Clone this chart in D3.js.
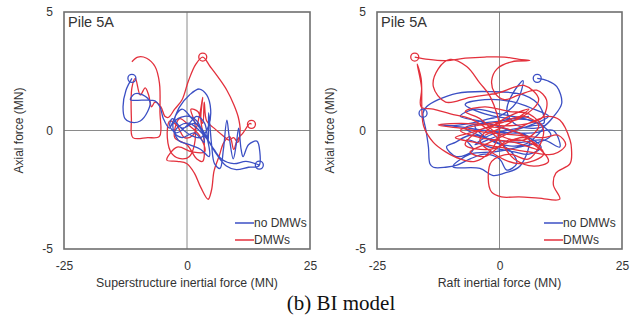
<!doctype html>
<html>
<head>
    <meta charset="UTF-8">
    <title>Pile 5A axial force</title>
    <script src="https://d3js.org/d3.v7.min.js"></script>
    <style>
        body{ margin:0; background:#fff; }
        text{ font-family: "Liberation Sans", Arial, sans-serif; fill:#333; }
    </style>
</head>
<body>
  <svg width="640" height="320" id="svg1"></svg>
  <script>
    // ticks
    var xTicks = [-25, 0, 25];
    var yTicks = [-5, 0, 5];
    var seriesNames = ["no DMWs", "DMWs"];
    var seriesColors = ["#3b4fc4", "#e3303c"];

    // superstructure inertial force vs axial force (MN)
    var leftBlue = [[-11.2,2.2],[-12.4,1.7],[-13,1.0],[-12.6,0.5],[-11.5,0.35],[-9.5,0.4],[-8,0.8],[-7.5,1.2],
        [-9,1.5],[-10.6,1.55],[-11.5,1.3],[-9,1.28],[-6.5,1.25],[-5.5,1.0],[-4.8,0.5],[-3.6,0.1],[-2.8,0.4],
        [-1.5,1.0],[0.5,1.5],[2.5,1.75],[4,1.5],[4.8,0.9],[4.4,0.2],[2.8,-0.3],[0.8,-0.2],[-1.2,0.1],[-3,0.5],
        [-3.5,0.2],[-2.2,-0.1],[0,0.2],[2,0.6],[3.6,0.3],[4.3,-0.5],[4.4,0.75],[5,-0.6],[5.6,-1.4],[6.7,-1.6],
        [7.4,-0.8],[8.1,0.44],[8.6,-0.3],[9.4,-1.2],[10,-0.6],[10.5,0.1],[11,-0.8],[11.4,-1.1],[12.5,-0.6],
        [14.2,-0.45],[14.8,-0.9],[14.6,-1.5],[12.5,-1.55],[10,-1.65],[8,-1.5],[6,-1.0],[4.2,-0.4],[2.5,0.0],
        [0.5,0.3],[-1.5,0.2],[-2.5,-0.1],[-1,-0.3],[1.5,-0.1],[3.5,-0.5],[2,0.4],[-0.5,0.6],[-2.8,0.3],
        [-1.8,-0.4],[0.5,-0.6],[2.8,-0.8],[4.5,-1.1],[3.8,-0.2],[1.5,0.3],[-1,0.1],[-2.5,0.5],[-1,0.9],
        [1,0.5],[3,0.0],[5.5,-0.8],[7,-1.2],[9.5,-1.4],[12,-1.3],[14.7,-1.46]];
    var leftRed = [[-11.2,2.9],[-10,3.1],[-8.2,3.05],[-6.5,2.7],[-5.6,2.0],[-5.5,0.8],[-5.6,-0.25],[-8,-0.3],
        [-11,-0.3],[-11.3,0.5],[-11.2,1.8],[-10.5,2.2],[-9.5,1.5],[-8.5,1.8],[-7.8,1.5],[-7.2,1.0],[-6.5,1.2],
        [-5.3,1.0],[-4.5,0.6],[-3.8,0.55],[-2.5,0.9],[-1,1.3],[0.3,2.1],[1.8,2.8],[3.2,3.1],[4.7,2.7],[6.5,2.2],
        [8.1,1.7],[9.5,1.1],[10.4,0.58],[10.8,0],[10.3,-0.5],[9.5,-0.3],[8.5,-0.4],[7.2,-0.2],[5.5,0.1],[4,0.4],
        [3.5,1.2],[3.2,0.3],[2.2,0.8],[0.8,0.9],[1.6,0.3],[1.5,-0.6],[0.5,-1.1],[-1,-1.2],[-3,-1.0],[-4,-0.3],
        [-3.5,0.4],[-2,0.2],[-0.5,-0.3],[1.2,-0.2],[2.5,0.6],[3.2,1.4],[2.8,0.5],[3.5,-0.5],[3.2,-1.3],[2,-1.2],
        [0,-0.6],[-2.5,-0.3],[-1.5,0.5],[0.5,0.2],[2.5,-0.2],[3.6,-0.9],[1,-0.9],[-2,-0.7],[-4.1,-1.25],
        [-2,-1.3],[0,-1.4],[1.5,-1.8],[2.8,-2.4],[4.3,-2.9],[5,-2.5],[5.5,-1.7],
        [6.5,-1.1],[7.5,-0.5],[8.7,-0.26],[9.5,-0.8],[10.2,-0.4],[11.4,-0.1],[12.8,0.3],[13.1,0.26]];

    // raft inertial force vs axial force (MN)
    var rightBlue = [[7.7,2.2],[9.8,2.1],[11.7,1.85],[12.7,1.15],[11,0.58],[8.9,0.16],[6,0.1],[3,0.3],[1.5,0.86],
        [2.8,1.6],[4.8,2.1],[3.5,1.2],[0,0.6],[-2,0.5],[-6,0.3],[-10,0.2],[-12,0.25],[-8,0.15],[-3,0.0],
        [2,-0.1],[7,-0.1],[11,0.0],[12.3,-0.7],[9,-0.4],[4,-0.5],[-1,-0.4],[-6,-0.2],[-9,-0.5],[-10.8,-0.68],
        [-8.8,-1.1],[-5.4,-0.82],[-6.7,-0.4],[-2,-0.7],[3,-0.9],[6,-1.0],[8.5,-0.7],[6,-0.3],[1,0.1],[-4,0.4],
        [-8,0.6],[-5,0.9],[0,0.7],[5,0.5],[9,0.3],[8.3,1.0],[4.9,1.5],[-1.9,1.64],[-8.7,1.57],[-12.5,1.3],
        [-14.9,1.0],[-15.6,0.73],[-15,0.0],[-14.5,-0.7],[-14.2,-1.4],[-13.5,-1.55],[-11,-1.55],[-8.7,-1.46],
        [-6,-1.2],[-3,-1.0],[0,-1.2],[1.5,-1.67],[3.5,-1.4],[2.8,-1.0],[0.5,-0.6],[-3,-0.3],[-7,0.1],[-3,0.3],
        [2,0.0],[6,-0.3],[4.2,-1.5],[1,-1.8],[-1.3,-1.9],[-4,-1.6],[-9.5,-1.53],[-6,-1.0],[-1,-0.9],[4,-0.7],
        [8,-0.5],[10.5,-0.2],[7,0.4],[2,0.5],[-3,0.7],[-7,1.1],[-3,1.3],[3,1.2],[7,0.9],[10,0.6],
        [6,0.2],[0,-0.2],[-5,-0.6],[-2,-0.2],[4,0.1],[9,0.2],[5,-0.6],[-1,-0.5],[-5,0.2],[0,0.4],[6,0.6]];
    var rightRed = [[-17.3,3.1],[-14.5,3.0],[-11,2.95],[-7,3.05],[-3,3.1],[1,3.1],[4,3.0],[6.2,2.95],[2.5,2.9],
        [-0.5,2.6],[-1.6,2.1],[-1.0,1.6],[1,1.3],[4,1.5],[7.6,1.7],[9.6,1.29],[8.9,0.58],[6,0.3],[2,0.2],
        [-3,0.25],[-8,0.3],[-12.5,0.23],[-8,0.1],[-2,-0.1],[4,-0.2],[9,-0.3],[12,-0.2],[13.5,-0.6],[11,-1.0],
        [6,-0.9],[0,-0.7],[-5,-0.5],[-9,-0.3],[-6,-0.1],[0,0.3],[5,0.6],[8,0.2],[5,-0.4],[0,-0.2],[-4,0.5],
        [-7,0.8],[-3,1.0],[2,0.8],[6,0.7],[9,0.0],[6,-1.2],[2,-1.0],[-1.6,-1.3],[-2.3,-2.0],[-1.6,-2.6],
        [0.4,-2.8],[4,-2.8],[8,-2.85],[12.3,-2.9],[11,-2.3],[11.5,-1.8],[14.4,-1.4],[14.7,-0.8],[14.4,-0.4],
        [12.3,0.44],[10,0.6],[7,0.4],[3,0.0],[-2,-0.5],[-6,-0.9],[-3,-1.1],[2,-0.4],[7,-0.6],[10,-1.3],
        [7,-1.5],[3,-1.2],[-1,-0.2],[-6,0.5],[-10,0.7],[-13.5,0.9],[-16,1.0],[-15.9,1.8],[-16.8,2.8],
        [-16,2.2],[-15.5,0.2],[-13.5,-0.5],[-11,-0.9],[-8,-1.2],[-5,-1.3],[-2,-0.9],[0,0.0],[-1.9,1.43],
        [-4,2.0],[-6.7,2.7],[-10.1,3.0],[-12.5,2.6],[-13.5,1.85],[-11,1.2],[-6,1.4],[0,1.6],[5,1.9],[8,1.3],
        [4,0.5],[-2,0.3],[-8,0.0],[-4,-0.3],[3,-0.5],[8,-0.8],[4,-0.1],[-3,0.1],[-7,-0.6],[-2,-0.8],[5,-0.3],
        [9,-1.0],[4,-1.4],[-1,-1.0],[-4,-0.4],[1,0.5],[6,0.9],[2,0.3],[-3,-0.2]];

    var leftMarks = [[-11.2,2.2,0],[14.7,-1.46,0],[3.2,3.1,1],[13.1,0.26,1]];
    var rightMarks = [[7.7,2.2,0],[-15.6,0.73,0],[-17.3,3.1,1]];

    var svg = d3.select("#svg1");
    var yScale = d3.scaleLinear().domain([-5, 5]).range([249, 12]);

    panel(64, 310, "Superstructure inertial force (MN)", 19, [leftRed, leftBlue], [1, 0], leftMarks, 235);
    panel(377, 622, "Raft inertial force (MN)", 330, [rightBlue, rightRed], [0, 1], rightMarks, 544);

    function panel(x0, x1, xTitle, yTitleX, data, colorIdx, marks, legX){
        var xScale = d3.scaleLinear().domain([-25, 25]).range([x0, x1]);
        var g = svg.append("g");

        // zero lines
        g.append("line").attr("x1", xScale(0)).attr("x2", xScale(0))
            .attr("y1", yScale(5)).attr("y2", yScale(-5)).attr("stroke", "#8a8a8a").attr("stroke-width", 1);
        g.append("line").attr("x1", x0).attr("x2", x1)
            .attr("y1", yScale(0)).attr("y2", yScale(0)).attr("stroke", "#8a8a8a").attr("stroke-width", 1);

        var line = d3.line()
            .x(function(d){ return xScale(d[0]); })
            .y(function(d){ return yScale(d[1]); })
            .curve(d3.curveCatmullRom.alpha(0.5));

        for(var i=0; i<data.length; i++){
            g.append("path").attr("d", line(data[i])).attr("fill", "none")
                .attr("stroke", seriesColors[colorIdx[i]]).attr("stroke-width", 1.3)
                .attr("stroke-linejoin", "round");
        }
        g.selectAll("circle.mk").data(marks).enter().append("circle")
            .attr("cx", function(d){ return xScale(d[0]); })
            .attr("cy", function(d){ return yScale(d[1]); })
            .attr("r", 4).attr("fill", "none")
            .attr("stroke", function(d){ return seriesColors[d[2]]; }).attr("stroke-width", 1.3);

        // frame
        g.append("rect").attr("x", x0).attr("y", yScale(5))
            .attr("width", x1 - x0).attr("height", yScale(-5) - yScale(5))
            .attr("fill", "none").attr("stroke", "#6f6f6f").attr("stroke-width", 1.6);

        // axes
        var fmt = function(d){ return String(d); };
        var ax = g.append("g").attr("transform", "translate(0," + yScale(-5) + ")")
            .call(d3.axisBottom(xScale).tickValues(xTicks).tickFormat(fmt).tickSize(0).tickPadding(12));
        var ay = g.append("g").attr("transform", "translate(" + x0 + ",0)")
            .call(d3.axisLeft(yScale).tickValues(yTicks).tickFormat(fmt).tickSize(0).tickPadding(11));
        ax.select(".domain").remove();
        ay.select(".domain").remove();
        g.selectAll(".tick text").attr("font-size", 12).attr("fill", "#333")
            .attr("font-family", "Liberation Sans, Arial, sans-serif");

        g.append("text").attr("x", xScale(0)).attr("y", 287).attr("text-anchor", "middle")
            .attr("font-size", 12.3).text(xTitle);
        g.append("text").attr("transform", "translate(" + yTitleX + "," + yScale(0) + ") rotate(-90)")
            .attr("text-anchor", "middle").attr("dy", "0.35em").attr("font-size", 12).text("Axial force (MN)");
        g.append("text").attr("x", x0 + 4).attr("y", 27).attr("font-size", 14.5).text("Pile 5A");

        // legend
        for(var k=0; k<2; k++){
            var ly = 223 + 17 * k;
            g.append("line").attr("x1", legX).attr("x2", legX + 19).attr("y1", ly).attr("y2", ly)
                .attr("stroke", seriesColors[k]).attr("stroke-width", 1.5);
            g.append("text").attr("x", legX + 19).attr("y", ly).attr("dy", "0.35em")
                .attr("font-size", 12).text(seriesNames[k]);
        }
    }

    svg.append("text").attr("x", 341).attr("y", 310).attr("text-anchor", "middle")
        .style("font-family", "'Liberation Serif', 'Times New Roman', serif").style("fill", "#111")
        .attr("font-size", 21).text("(b) BI model");
  </script>
</body>
</html>
